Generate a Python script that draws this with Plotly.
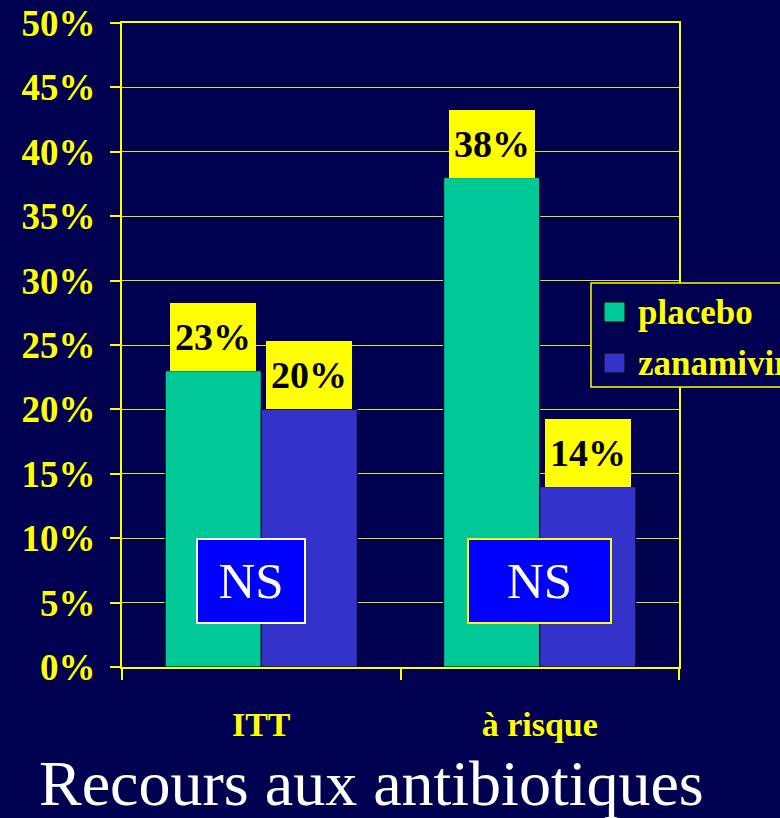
import plotly.graph_objects as go

categories = ["ITT", "à risque"]
series_names = ["placebo", "zanamivir"]
placebo = [23, 38]
zanamivir = [20, 14]
y_ticks = [0, 5, 10, 15, 20, 25, 30, 35, 40, 45, 50]
y_tick_labels = [f"{v}%" for v in y_ticks]
ns_labels = ["NS", "NS"]
title_text = "Recours aux antibiotiques"

BG = "#000050"
YEL = "#FFFF00"
COLORS = ["#00C896", "#3333CC"]
SERIF = "Liberation Serif, Times New Roman, serif"

W, H = 780, 818
L, R, T, B = 122, 101, 23, 151
PW, PH = W - L - R, H - T - B


def px(x):
    return (x - L) / PW


def py(y):
    return (H - B - y) / PH


bargap = 0.31
bw = (1 - bargap) / 2

fig = go.Figure()
for name, vals, col in zip(series_names, [placebo, zanamivir], COLORS):
    fig.add_trace(go.Bar(
        x=categories, y=vals, name=name,
        marker=dict(color=col, line=dict(color="#000020", width=1)),
        showlegend=False, hoverinfo="skip",
    ))

annotations = []
# value labels on yellow boxes
for si, vals in enumerate([placebo, zanamivir]):
    off = (-bw / 2) if si == 0 else (bw / 2)
    for ci, v in enumerate(vals):
        annotations.append(dict(
            x=ci + off, y=v, xref="x", yref="y",
            xanchor="center", yanchor="bottom",
            text=f"<b>{v}%</b>", showarrow=False,
            font=dict(family=SERIF, size=38, color="black"),
            bgcolor=YEL, borderpad=2, borderwidth=0,
            width=82, height=64,
        ))

# NS boxes
ns_styles = [dict(w=106, border="white", shift=-10), dict(w=141, border=YEL, shift=0)]
for ci, (lab, st) in enumerate(zip(ns_labels, ns_styles)):
    annotations.append(dict(
        x=ci, y=6.67, xref="x", yref="y", xshift=st["shift"],
        xanchor="center", yanchor="middle",
        text=lab, showarrow=False,
        font=dict(family=SERIF, size=51, color="white"),
        bgcolor="#0000FF", bordercolor=st["border"], borderwidth=2, borderpad=0,
        width=st["w"], height=82,
    ))

# manual legend
shapes = [dict(type="rect", xref="paper", yref="paper",
               x0=px(591), x1=px(800), y0=py(387), y1=py(283),
               fillcolor=BG, line=dict(color=YEL, width=1.5), layer="above")]
rows = [(302, 322, 312), (353, 373, 363)]
for name, col, (t0, t1, tc) in zip(series_names, COLORS, rows):
    shapes.append(dict(type="rect", xref="paper", yref="paper",
                       x0=px(604), x1=px(625), y0=py(t1), y1=py(t0),
                       fillcolor=col, line=dict(color="black", width=1), layer="above"))
    annotations.append(dict(
        x=px(636), y=py(tc), xref="paper", yref="paper",
        xanchor="left", yanchor="middle", text=f"<b>{name}</b>", showarrow=False,
        font=dict(family=SERIF, size=35, color=YEL),
    ))

# title
annotations.append(dict(
    x=px(371), y=py(783), xref="paper", yref="paper",
    xanchor="center", yanchor="middle", text=title_text, showarrow=False,
    font=dict(family=SERIF, size=64, color="white"),
))

fig.update_layout(
    width=W, height=H,
    paper_bgcolor=BG, plot_bgcolor=BG,
    margin=dict(l=L, r=R, t=T, b=B, autoexpand=False),
    barmode="group", bargap=bargap, bargroupgap=0,
    showlegend=False,
    annotations=annotations, shapes=shapes,
    font=dict(family=SERIF),
)
fig.update_yaxes(
    range=[0, 50], tickvals=y_ticks, ticktext=[f"<b>{t}</b>" for t in y_tick_labels],
    tickfont=dict(family=SERIF, size=37, color=YEL),
    showgrid=True, gridcolor="#E6E600", gridwidth=1,
    showline=True, linecolor=YEL, linewidth=2, mirror=True,
    ticks="outside", ticklen=10, tickcolor=YEL, tickwidth=1.5,
    zeroline=False, ticklabelstandoff=7,
)
fig.update_xaxes(
    tickvals=categories, ticktext=[f"<b>{c}</b>" for c in categories],
    tickfont=dict(family=SERIF, size=34, color=YEL),
    showline=True, linecolor=YEL, linewidth=2, mirror=True,
    ticks="outside", tickson="boundaries", ticklen=11, tickcolor=YEL, tickwidth=1.5,
    showgrid=False, ticklabelstandoff=26,
)

fig.write_html(
    "out.html",
    config={"displayModeBar": False},
    post_script="document.body.style.margin='0';document.body.style.padding='0';"
                "document.body.style.background='" + BG + "';",
)
